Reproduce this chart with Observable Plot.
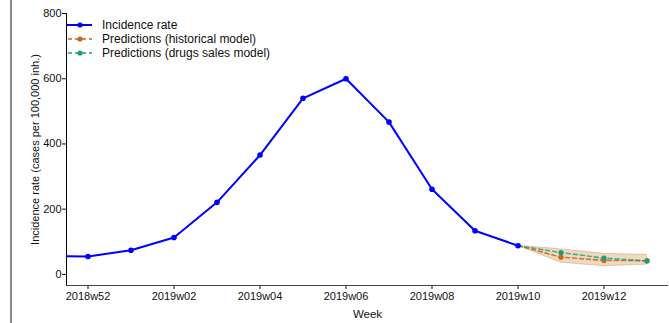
<!DOCTYPE html>
<html>
<head>
<meta charset="utf-8">
<script src="https://cdn.jsdelivr.net/npm/d3@7"></script>
<script src="https://cdn.jsdelivr.net/npm/@observablehq/plot@0.6"></script>
<style>
  html, body { margin: 0; padding: 0; background: #fff; }
  #wrap { position: relative; width: 669px; height: 323px; font-family: "Liberation Sans", Arial, sans-serif; }
  #edge { position: absolute; left: 10px; top: 0; width: 2px; height: 323px; background: #8a8a8a; }
  #legend { position: absolute; left: 67px; top: 18px; font-size: 12px; color: #111; }
  #legend .row { height: 14px; display: flex; align-items: center; }
  #legend svg { margin-right: 9px; }
</style>
</head>
<body>
<div id="wrap"><div id="edge"></div></div>
<script>
// Weeks (index = x position)
const weeks = ["2018w51","2018w52","2019w01","2019w02","2019w03","2019w04","2019w05","2019w06","2019w07","2019w08","2019w09","2019w10","2019w11","2019w12","2019w13"];
// Observed incidence rate, 2018w51 .. 2019w10
const incidence = [57, 55, 74, 113, 221, 366, 540, 600, 467, 261, 134, 88];
// Predictions, 2019w10 .. 2019w13
const predWeeks = ["2019w10","2019w11","2019w12","2019w13"];
const predHistorical = [88, 53, 43, 42];
const predDrugs = [88, 67, 50, 41];
const bandLow = [88, 36, 25, 30];
const bandHigh = [88, 77, 63, 60];
// Axis ticks
const xTickLabels = ["2018w52","2019w02","2019w04","2019w06","2019w08","2019w10","2019w12"];
const yTicks = [0, 200, 400, 600, 800];
const xDomain = [0.5, 14.5];
const yDomain = [-34, 800];

const colors = { obs: "#0000ff", hist: "#c8661c", drugs: "#1b9e77", band: "#d9a066" };

const idx = w => weeks.indexOf(w);
const obs = incidence.map((v, i) => ({x: i, y: v}));
const pred = predWeeks.map((w, i) => ({x: idx(w), hist: predHistorical[i], drugs: predDrugs[i], lo: bandLow[i], hi: bandHigh[i]}));
const predDots = pred.slice(1);

const chart = Plot.plot({
  width: 669,
  height: 323,
  marginLeft: 66,
  marginRight: 1,
  marginTop: 13,
  marginBottom: 38,
  style: { fontFamily: "Liberation Sans, Arial, sans-serif", fontSize: "11px", color: "#111", background: "transparent" },
  x: { type: "linear", domain: xDomain, axis: null },
  y: { domain: yDomain, axis: null },
  marks: [
    Plot.axisX({ticks: xTickLabels.map(idx), tickFormat: i => weeks[i], tickSize: 4, tickPadding: 3, label: null, fontSize: 11}),
    Plot.axisY({ticks: yTicks, tickSize: 4, tickPadding: 1, label: null, fontSize: 11}),
    Plot.ruleX([xDomain[0]], {y1: yDomain[0], y2: yTicks[yTicks.length - 1], stroke: "#000", strokeWidth: 1}),
    Plot.ruleY([yDomain[0]], {stroke: "#444", strokeWidth: 1.2}),
    Plot.areaY(pred, {x: "x", y1: "lo", y2: "hi", fill: colors.band, fillOpacity: 0.4, stroke: colors.band, strokeOpacity: 0.5, strokeWidth: 1}),
    Plot.line(pred, {x: "x", y: "hist", stroke: colors.hist, strokeWidth: 1.6, strokeDasharray: "4,3", strokeOpacity: 0.85}),
    Plot.dot(predDots, {x: "x", y: "hist", fill: colors.hist, r: 2.6}),
    Plot.line(pred, {x: "x", y: "drugs", stroke: colors.drugs, strokeWidth: 1.6, strokeDasharray: "4,3", strokeOpacity: 0.75}),
    Plot.dot(predDots, {x: "x", y: "drugs", fill: colors.drugs, r: 2.6}),
    Plot.line(obs, {x: "x", y: "y", stroke: colors.obs, strokeWidth: 2, clip: true}),
    Plot.dot(obs, {x: "x", y: "y", fill: colors.obs, r: 2.8, clip: true}),
    Plot.text(["Week"], {frameAnchor: "bottom", dy: 32, fontSize: 11.5, fill: "#111"}),
    Plot.text(["Incidence rate (cases per 100,000 inh.)"], {frameAnchor: "left", textAnchor: "middle", rotate: -90, dx: -31, fontSize: 11, fill: "#111"})
  ]
});
const wrap = document.getElementById("wrap");
chart.style.position = "absolute";
chart.style.left = "0";
chart.style.top = "0";
wrap.insertBefore(chart, wrap.firstChild);

// Legend
const legendItems = [
  {label: "Incidence rate", color: colors.obs, dash: null, width: 2},
  {label: "Predictions (historical model)", color: colors.hist, dash: "4,3", width: 1.4},
  {label: "Predictions (drugs sales model)", color: colors.drugs, dash: "4,3", width: 1.4}
];
const legend = document.createElement("div");
legend.id = "legend";
for (const it of legendItems) {
  const row = document.createElement("div");
  row.className = "row";
  row.innerHTML = `<svg width="26" height="14"><line x1="0" x2="25" y1="7" y2="7" stroke="${it.color}" stroke-width="${it.width}" ${it.dash ? `stroke-dasharray="${it.dash}" stroke-dashoffset="-1"` : ""}/><circle cx="13" cy="7" r="2.6" fill="${it.color}"/></svg><span>${it.label}</span>`;
  legend.appendChild(row);
}
wrap.appendChild(legend);
</script>
</body>
</html>
